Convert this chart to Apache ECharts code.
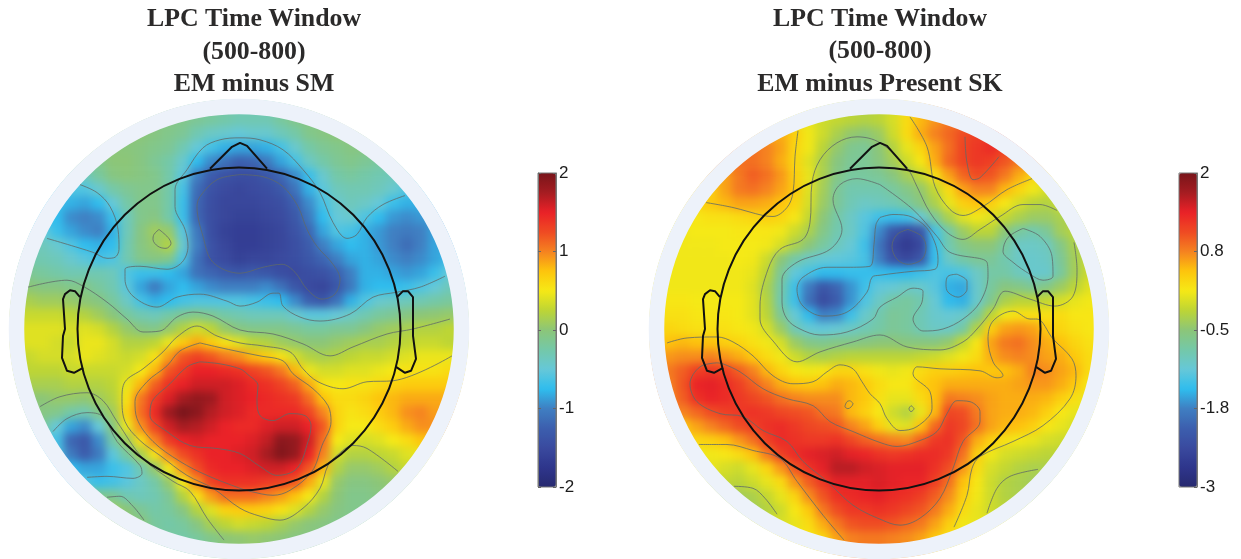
<!DOCTYPE html>
<html><head><meta charset="utf-8">
<style>html,body{margin:0;padding:0;background:#fff}#c{width:1241px;height:559px}</style>
<script src="https://cdn.jsdelivr.net/npm/echarts@6/dist/echarts.min.js"></script>
</head><body><div id="c"></div>
<script>
const titleLeft = 'LPC Time Window\n(500-800)\nEM minus SM';
const titleRight = 'LPC Time Window\n(500-800)\nEM minus Present SK';
const ticksLeft = ['-2','-1','0','1','2'];
const ticksRight = ['-3','-1.8','-0.5','0.8','2'];
const colorStops = ['#27296f','#2e358c','#3a4a9f','#3c5fae','#3f7fc2','#2fbdee','#66c8d8','#74c8a8','#8cc678','#bdd535','#f6e916','#fdc50c','#f58220','#ef4a23','#ea2127','#a51c21','#78141a'];

// Rows run top to bottom; each row is centred on the head's midline.
const rowsLeft = [
[-.05,-.1,-.15,-.2,-.25,-.3,-.3,-.3,-.2,-.1,-.05],
[0,-.05,-.1,-.15,-.3,-.4,-.45,-.5,-.45,-.45,-.35,-.25,-.1,-.05,0],
[0,-.02,-.05,-.1,-.15,-.3,-.5,-.65,-.8,-.85,-.85,-.8,-.65,-.45,-.25,-.15,-.1,-.05,-.05],
[-.1,0,0,-.05,-.15,-.25,-.45,-.75,-.95,-1.1,-1.25,-1.2,-1.05,-.85,-.65,-.4,-.25,-.15,-.1,-.15,-.2],
[-.35,-.2,-.05,-.02,-.05,-.1,-.25,-.55,-1,-1.3,-1.4,-1.45,-1.45,-1.35,-1.2,-.95,-.7,-.45,-.25,-.2,-.25,-.3,-.35],
[-.6,-.6,-.45,-.25,-.15,-.1,-.1,-.25,-.65,-1.15,-1.4,-1.5,-1.55,-1.5,-1.45,-1.35,-1.1,-.8,-.55,-.35,-.3,-.3,-.35,-.45,-.6],
[-.7,-.8,-.85,-.75,-.5,-.25,-.1,-.1,-.25,-.7,-1.2,-1.45,-1.55,-1.55,-1.55,-1.5,-1.45,-1.25,-.95,-.65,-.45,-.35,-.4,-.5,-.7,-.8,-.8],
[-.75,-.95,-1,-.95,-.7,-.35,-.1,-.05,-.25,-.7,-1.2,-1.45,-1.55,-1.6,-1.6,-1.55,-1.5,-1.35,-1.05,-.75,-.5,-.45,-.6,-.75,-.9,-.95,-.9],
[-.5,-.7,-.85,-.95,-1,-.8,-.35,-.05,.1,.05,-.55,-1.05,-1.45,-1.6,-1.65,-1.65,-1.6,-1.55,-1.4,-1.2,-.85,-.6,-.65,-.8,-.9,-1,-1.05,-1,-.85],
[-.35,-.45,-.6,-.75,-.8,-.75,-.3,-.05,.05,.2,-.45,-1,-1.4,-1.55,-1.65,-1.65,-1.6,-1.55,-1.45,-1.3,-1,-.85,-.75,-.8,-.9,-1,-1.15,-1,-.85],
[-.25,-.3,-.35,-.45,-.55,-.65,-.6,-.3,-.1,-.05,-.1,-.6,-1.1,-1.4,-1.5,-1.6,-1.55,-1.55,-1.5,-1.45,-1.35,-1.2,-1,-.85,-.8,-.85,-.95,-1,-.95,-.85,-.7],
[-.15,-.2,-.25,-.3,-.3,-.3,-.35,-.6,-.7,-.7,-.75,-.85,-1.1,-1.2,-1.3,-1.35,-1.3,-1.35,-1.45,-1.5,-1.45,-1.4,-1.25,-1,-.8,-.8,-.85,-.9,-.85,-.7,-.5],
[0,-.05,-.05,-.1,-.1,-.2,-.3,-.55,-.85,-1.05,-.85,-.75,-.85,-.95,-1,-1,-1,-.95,-1.1,-1.35,-1.5,-1.55,-1.35,-1.05,-.8,-.75,-.75,-.7,-.6,-.5,-.35],
[.15,.1,.1,.05,0,-.05,-.2,-.4,-.65,-.8,-.75,-.65,-.6,-.6,-.6,-.6,-.65,-.7,-.75,-.95,-1.25,-1.35,-1.1,-.8,-.6,-.45,-.4,-.35,-.3,-.25,-.2],
[.3,.3,.3,.25,.2,.1,-.02,-.2,-.3,-.35,-.25,-.15,-.1,-.15,-.25,-.3,-.35,-.35,-.35,-.45,-.55,-.55,-.5,-.4,-.3,-.2,-.15,-.05,0,.02,.05],
[.4,.4,.4,.35,.4,.35,.2,.05,-.05,-.1,.05,.2,.35,.25,.05,-.05,-.1,-.1,-.1,-.15,-.2,-.2,-.15,-.15,-.05,.05,.1,.15,.2,.2,.25],
[.4,.4,.35,.3,.45,.45,.35,.2,.2,.25,.45,.7,.85,.7,.55,.4,.25,.2,.1,.05,0,0,.05,.1,.15,.15,.2,.25,.3,.3,.25],
[.3,.35,.35,.35,.45,.4,.35,.3,.35,.55,.9,1.2,1.3,1.2,1.05,.95,.8,.7,.55,.35,.2,.15,.2,.25,.3,.3,.35,.4,.45,.45,.45],
[.25,.25,.25,.3,.3,.3,.3,.35,.5,.8,1.2,1.35,1.5,1.5,1.45,1.4,1.3,1.2,1.05,.8,.45,.35,.35,.4,.4,.45,.5,.55,.55,.55,.6],
[.15,.15,.15,.2,.2,.2,.25,.45,.8,1.15,1.4,1.5,1.6,1.6,1.6,1.55,1.45,1.4,1.3,1.15,.85,.55,.5,.55,.55,.6,.65,.7,.7,.7,.7],
[0,0,.05,.05,.02,.1,.2,.55,1.05,1.35,1.55,1.75,1.85,1.8,1.6,1.55,1.5,1.45,1.4,1.35,1.1,.75,.6,.6,.65,.75,.8,.85,.85,.85,.85],
[-.05,-.1,-.25,-.3,-.1,.1,.65,1.1,1.45,1.8,2,1.9,1.7,1.6,1.55,1.45,1.45,1.45,1.45,1.3,1,.65,.55,.6,.7,.8,.95,1,.9],
[-.2,-.5,-.85,-.95,-.5,-.05,.45,.95,1.3,1.6,1.75,1.7,1.6,1.5,1.45,1.45,1.55,1.6,1.6,1.5,1.2,.65,.5,.5,.6,.7,.85,.95,.95],
[-.65,-1.2,-1.35,-.95,-.25,.1,.6,1,1.35,1.5,1.55,1.5,1.5,1.5,1.55,1.65,1.9,1.85,1.6,1.1,.5,.4,.35,.4,.5,.6,.75],
[-.6,-1.05,-1.3,-1.05,-.55,-.2,.15,.55,1,1.25,1.4,1.5,1.5,1.55,1.6,1.75,1.95,1.85,1.5,1,.35,.2,.2,.25,.3,.4,.45],
[-.75,-.85,-.85,-.7,-.6,-.3,.05,.5,.95,1.25,1.45,1.5,1.5,1.55,1.6,1.6,1.5,1.2,.8,.2,.05,.05,.1,.2,.3],
[-.6,-.7,-.65,-.55,-.4,-.25,.05,.5,.95,1.3,1.4,1.4,1.4,1.35,1.3,1.2,.85,.45,.05,-.05,-.05,0,.05],
[-.1,-.15,-.3,-.35,-.3,-.15,.2,.55,.9,1.1,1.1,1.1,1,.9,.75,.5,.2,0,-.1,-.1,-.05],
[.1,0,-.15,-.25,-.2,-.05,.2,.4,.65,.7,.7,.65,.55,.4,.2,.05,-.05,-.1,-.1],
[0,-.2,-.25,-.2,-.05,.15,.25,.35,.3,.25,.15,.05,-.02,-.05,-.1],
[-.2,-.25,-.2,-.1,0,.02,.05,.02,0,-.05,-.05]
];
const rowsRight = [
[.05,-.1,-.15,-.2,-.25,-.2,-.05,.25,.5,.65,.8],
[.55,.35,.1,-.1,-.3,-.45,-.5,-.4,-.1,.25,.55,.75,.9,1.05,1.15],
[.85,.75,.6,.3,.1,-.2,-.45,-.65,-.7,-.5,-.25,.05,.3,.6,.85,1.1,1.2,1.3,1.15],
[.85,.85,.75,.55,.3,0,-.3,-.55,-.7,-.7,-.55,-.35,-.1,.15,.55,.9,1.1,1.2,1.15,1,.8],
[.6,.8,.95,.85,.65,.35,.05,-.3,-.6,-.75,-.75,-.7,-.55,-.35,-.15,.2,.6,.9,1.05,1,.8,.55,.3],
[.35,.6,.8,.85,.75,.6,.4,0,-.35,-.7,-.85,-.85,-.85,-.75,-.6,-.45,-.15,.25,.6,.75,.75,.5,.3,.1,-.05],
[.3,.4,.5,.6,.6,.55,.45,.3,-.05,-.4,-.7,-.9,-1,-.95,-.9,-.75,-.55,-.3,.05,.35,.45,.35,.15,-.05,-.2,-.25,-.1],
[.15,.2,.2,.25,.3,.35,.3,.15,-.15,-.5,-.8,-1,-1.2,-1.35,-1.4,-1.35,-1.1,-.7,-.3,0,.1,0,-.15,-.3,-.4,-.4,-.3],
[.1,.12,.12,.12,.15,.15,.15,.1,-.1,-.3,-.6,-.85,-1,-1.25,-1.7,-2.2,-2.4,-2.2,-1.3,-.8,-.4,-.2,-.2,-.5,-.75,-.85,-.7,-.35,-.2],
[.1,.1,.1,.12,.12,.12,.1,-.05,-.3,-.5,-.75,-.95,-1.1,-1.35,-1.85,-2.4,-2.6,-2.4,-1.4,-.85,-.6,-.5,-.5,-.75,-1,-1,-.95,-.6,-.3],
[.1,.1,.1,.1,.1,.12,.1,-.1,-.5,-.8,-1,-1.1,-1.15,-1.2,-1.3,-1.75,-2.25,-2.4,-2.2,-1.4,-1,-.8,-.7,-.7,-.85,-1,-1.05,-1,-.7,-.35,-.1],
[.1,.1,.1,.1,.1,.1,.05,-.2,-.7,-1.15,-1.3,-1.45,-1.45,-1.4,-1.4,-1.4,-1.45,-1.45,-1.35,-1.25,-1.3,-1.25,-1,-.8,-.8,-.95,-1.05,-1.05,-.75,-.35,-.1],
[.1,.1,.1,.1,.1,.1,0,-.3,-.8,-1.35,-1.8,-2.2,-2,-1.65,-1.35,-1.15,-1.1,-1,-1.05,-1.2,-1.5,-1.55,-1.05,-.75,-.55,-.6,-.7,-.6,-.4,-.2,0],
[.15,.15,.12,.12,.12,.12,.02,-.25,-.85,-1.35,-1.9,-2.35,-2.1,-1.65,-1.25,-1,-.8,-.75,-.85,-1.1,-1.45,-1.5,-1.05,-.65,-.3,-.2,-.2,-.15,-.05,.05,.1],
[.2,.2,.15,.15,.15,.12,.02,-.2,-.7,-1.1,-1.45,-1.75,-1.7,-1.35,-1.05,-.85,-.7,-.75,-.9,-1.05,-1.1,-1.05,-.75,-.2,.1,.2,.2,.2,.25,.15,.15],
[.3,.25,.2,.2,.2,.15,.1,-.05,-.4,-.9,-1.1,-1.15,-1.1,-1,-.9,-.8,-.7,-.75,-.9,-1,-1,-.8,-.25,.35,.6,.65,.6,.4,.3,.2,.15],
[.45,.5,.45,.45,.35,.3,.2,.1,-.05,-.4,-.6,-.65,-.6,-.6,-.55,-.5,-.5,-.55,-.55,-.55,-.45,-.15,.15,.6,.8,.85,.7,.55,.45,.3,.2],
[.65,.7,.7,.75,.65,.55,.4,.25,.1,-.1,-.25,-.3,-.25,-.2,-.2,-.2,-.2,-.2,-.15,-.1,0,.1,.25,.55,.7,.75,.7,.6,.55,.4,.25],
[.8,.95,1.15,1.2,1.15,.95,.75,.5,.3,.15,.1,.15,.3,.3,.2,.1,.05,.1,.25,.35,.35,.4,.45,.4,.45,.55,.75,.7,.6,.5,.25],
[.75,1,1.35,1.4,1.3,1.15,.95,.75,.55,.45,.4,.45,.55,.5,.4,.25,.15,.15,.35,.45,.55,.55,.55,.55,.55,.6,.65,.65,.55,.4,.15],
[.7,.95,1.25,1.35,1.3,1.2,1.1,1,.85,.75,.7,.7,.7,.5,.4,.2,.05,.05,.25,.45,.8,.75,.7,.6,.55,.55,.55,.5,.35,.2,.05],
[.75,.9,1.05,1.15,1.2,1.25,1.2,1.1,1.05,1,.85,.8,.5,.35,.15,-.1,-.25,.05,.5,1.1,1.05,.8,.6,.55,.55,.5,.35,.15,.05],
[.4,.6,.75,.9,1.05,1.15,1.25,1.3,1.2,1.1,1.05,1,.75,.6,.35,.05,0,.45,.9,1.2,1.1,.85,.6,.5,.45,.35,.15,.05,-.05],
[.3,.35,.45,.65,.85,1.15,1.3,1.25,1.2,1.2,1.25,1.1,.95,.85,.75,.7,.95,1.2,1.25,1,.55,.35,.2,.1,.05,-.05,-.1],
[.1,.1,.15,.25,.45,.8,1.15,1.3,1.4,1.45,1.5,1.4,1.35,1.25,1.2,1.25,1.3,1.3,1.2,.85,.35,.1,-.05,-.1,-.15,-.2,-.2],
[.05,-.05,-.1,.05,.3,.65,1,1.25,1.4,1.6,1.6,1.5,1.45,1.4,1.4,1.4,1.25,1.05,.65,.25,-.05,-.15,-.25,-.3,-.3],
[-.15,-.2,-.1,.05,.25,.65,.95,1.2,1.4,1.4,1.4,1.45,1.4,1.35,1.35,1.15,.85,.45,.15,-.1,-.25,-.3,-.35],
[-.35,-.3,-.15,.05,.3,.7,1,1.25,1.3,1.35,1.4,1.3,1.25,1.15,.95,.7,.35,.1,-.1,-.25,-.3],
[-.35,-.25,-.1,.15,.4,.8,1.05,1.2,1.2,1.25,1.2,1.1,1,.8,.55,.25,.05,-.1,-.2],
[-.05,.05,.25,.55,.8,1,1.05,1.05,1,.9,.8,.6,.35,.1,.05],
[.15,.3,.6,.75,.8,.8,.75,.7,.6,.4,.2]
];

// Overlay frame: 462 units square, from (8,99) to (470,561).
const nose = [[210,169],[232,147],[240,143],[247,146],[267,169]];
const earLeft = [[80,298],[75,292],[70,291],[65,295],[63,300],[65,330],[63,337],[62,359],[67,372],[74,374],[83,369]];
const earRight = [[397,298],[403,292],[408,292],[413,298],[413,330],[413,337],[416,360],[411,372],[405,374],[396,368]];
const contoursLeft = [
[[80,185],[97,193],[110,207],[118,230],[119,250],[115,258],[107,259],[93,253],[47,239]],
[[159,230],[168,238],[171,244],[166,249],[158,247],[153,240],[154,235],[159,230]],
[[405,196],[383,205],[367,218],[357,235],[347,239],[333,223],[320,193],[303,170],[283,150],[260,140],[240,138],[220,140],[203,148],[187,170],[175,190],[175,207],[185,230],[188,247],[182,263],[167,270],[140,267],[125,270],[125,280],[133,297],[157,308],[177,298],[200,295],[227,302],[240,307],[257,303],[273,294],[279,294],[283,307],[300,318],[320,322],[350,315],[373,298],[397,293],[420,288],[445,277]],
[[240,175],[217,180],[200,197],[197,207],[203,237],[213,263],[240,274],[263,268],[282,265],[295,273],[307,290],[322,300],[335,295],[340,280],[333,265],[317,247],[307,230],[298,207],[283,187],[263,177],[240,175]],
[[28,288],[67,281],[83,287],[107,303],[127,320],[143,333],[160,332],[177,318],[193,313],[213,317],[240,331],[273,335],[303,345],[330,357],[353,348],[387,335],[413,330],[450,320]],
[[452,357],[393,382],[367,383],[343,390],[318,383],[303,370],[290,353],[263,347],[240,344],[217,337],[197,327],[177,338],[163,353],[143,370],[125,383],[122,400],[125,423],[140,442],[160,457],[187,477],[213,490],[240,510],[260,518],[280,522],[303,510],[320,490],[328,467],[337,457],[353,447],[367,450],[398,473]],
[[200,344],[180,352],[167,367],[147,383],[135,403],[137,420],[153,443],[180,463],[207,477],[240,490],[250,493],[273,497],[290,492],[312,473],[322,447],[331,423],[328,407],[313,390],[293,375],[283,362],[260,357],[240,353],[217,348],[200,344]],
[[200,363],[187,368],[170,385],[152,403],[150,417],[167,433],[190,447],[217,450],[240,455],[260,468],[277,477],[297,470],[308,443],[311,427],[305,417],[290,415],[273,422],[260,417],[257,400],[258,387],[247,375],[240,370],[220,365],[200,363]],
[[53,433],[67,420],[87,414],[103,418],[117,443],[140,467],[142,475],[133,480],[107,478],[87,479]],
[[40,408],[60,398],[87,394],[103,402],[117,423],[143,460],[173,483],[190,493],[207,520],[224,542]],
[[107,499],[120,498],[133,508],[144,522]]
];
const contoursRight = [
[[158,131],[155,157],[153,193],[147,208],[133,217],[123,216],[93,208],[66,203]],
[[417,211],[400,205],[383,205],[360,217],[340,230],[323,240],[307,233],[290,213],[277,187],[267,168],[240,143],[217,137],[197,143],[180,160],[172,183],[170,223],[163,240],[140,250],[128,270],[120,307],[120,320],[133,342],[157,363],[180,353],[213,343],[240,336],[267,348],[300,351],[323,343],[337,330],[353,310],[365,292],[390,300],[415,307],[433,297],[437,270],[434,243]],
[[270,117],[287,147],[295,187],[310,210],[323,216],[343,207],[367,190],[392,179]],
[[240,185],[217,179],[200,185],[193,200],[202,230],[190,250],[157,263],[142,280],[142,303],[147,320],[160,330],[180,336],[207,333],[233,320],[240,308],[257,298],[273,289],[283,292],[282,303],[273,320],[283,332],[303,330],[323,320],[340,303],[348,277],[347,263],[310,253],[297,237],[273,210],[240,185]],
[[240,218],[236,225],[234,245],[230,267],[207,268],[187,268],[163,278],[157,290],[163,307],[183,317],[207,313],[227,293],[232,278],[240,276],[273,272],[295,270],[298,260],[290,233],[273,218],[253,215],[240,218]],
[[268,230],[282,237],[286,248],[282,260],[268,265],[257,260],[252,247],[257,235],[268,230]],
[[317,275],[327,282],[327,290],[318,298],[308,293],[306,285],[308,277],[317,275]],
[[383,229],[400,237],[412,257],[413,277],[403,281],[390,275],[373,263],[363,252],[368,238],[383,229]],
[[325,137],[327,163],[333,180],[340,178],[359,157]],
[[314,529],[327,497],[332,470],[340,458],[373,443],[403,427],[430,400],[436,377],[432,360],[413,340],[397,320],[390,320],[373,312],[353,322],[348,340],[353,363],[363,377],[357,379],[340,372],[300,370],[277,368],[273,375],[290,393],[292,410],[277,428],[260,432],[247,420],[240,405],[230,395],[222,383],[213,370],[200,366],[187,373],[173,383],[153,385],[133,377],[113,357],[93,343],[77,338],[47,339],[27,344]],
[[77,364],[60,368],[50,385],[57,403],[80,415],[103,418],[123,432],[147,443],[163,463],[187,483],[213,507],[240,521],[260,527],[280,520],[300,500],[313,470],[323,443],[340,423],[340,413],[330,403],[317,402],[307,415],[297,433],[280,442],[257,448],[240,444],[213,433],[190,423],[173,407],[147,400],[123,390],[100,373],[83,365],[77,364]],
[[210,402],[213,405],[208,410],[205,408],[207,403],[210,402]],
[[271,407],[274,410],[271,413],[269,410],[271,407]],
[[59,446],[87,446],[113,452],[140,460],[157,483],[183,517],[204,542]],
[[94,488],[113,490],[125,500],[137,516]],
[[347,515],[357,490],[370,478],[398,471]]
];
// Radii in overlay-frame units, centre at (239,330).
const headCentre = [239,330];
const headRadius = 161.5, ringRadius = 222.5, maskRadius = 262;

const TOP = 1; // layer above the softened heat field
const CELLS = 33, cellLabels = Array.from({length:CELLS},(_,i)=>String(i));
// Edge rows and edge cells repeat outward under the ring so the softening never meets white inside the disc.
function cells(rows){
  const padded=[rows[0],...rows,rows[rows.length-1]];
  const out=[];
  padded.forEach((r,y)=>{
    const wide=[r[0],r[0],...r,r[r.length-1],r[r.length-1]];
    const off=(CELLS-wide.length)/2;
    wide.forEach((v,i)=>{const x=off+i;if(x>=0&&x<CELLS)out.push([x,y,v]);});
  });
  return out;
}
function circle(gi,r,lw,color,z){
  return {type:'custom',xAxisIndex:gi,yAxisIndex:gi,coordinateSystem:'cartesian2d',z,zlevel:TOP,silent:true,clip:false,
    data:[[headCentre[0],headCentre[1]]],
    renderItem:(p,api)=>{const c=api.coord([api.value(0),api.value(1)]);const s=api.size([r,0]);
      return {type:'circle',shape:{cx:c[0],cy:c[1],r:s[0]},style:{fill:'none',stroke:color,lineWidth:lw}};}};
}
function line(gi,pts,width,color,smooth,z){
  return {type:'line',xAxisIndex:gi,yAxisIndex:gi,data:pts,symbol:'none',silent:true,smooth:smooth,clip:false,z,zlevel:TOP,
    lineStyle:{width,color},animation:false};
}
function panel(ci,rows,contours){
  const o=ci+1;
  return [
    {type:'heatmap',xAxisIndex:ci,yAxisIndex:ci,data:cells(rows),z:1,zlevel:0,silent:true,progressive:0,itemStyle:{borderWidth:0},emphasis:{disabled:true},animation:false},
    circle(o,maskRadius,64,'#ffffff',2),
    circle(o,ringRadius,15.5,'#edf2fa',3),
    ...contours.map(c=>line(o,c,0.8,'#5f6a68',0.35,4)),
    circle(o,headRadius,2,'#111111',5),
    line(o,nose,2,'#111111',false,5),
    line(o,earLeft,2,'#111111',false,5),
    line(o,earRight,2,'#111111',false,5)
  ];
}
const mapGrid=(left)=>({left,top:99,width:462,height:462});
const barGrid=(left)=>({left,top:173,width:18,height:314,show:true,borderColor:'#777',borderWidth:1,z:8,zlevel:TOP,backgroundColor:'transparent'});
function catX(g){return {type:'category',gridIndex:g,data:cellLabels,show:false};}
function catY(g){return {type:'category',gridIndex:g,data:cellLabels,show:false,inverse:true};}
function valX(g){return {type:'value',gridIndex:g,min:8,max:470,show:false};}
function valY(g){return {type:'value',gridIndex:g,min:99,max:561,show:false,inverse:true};}
function barX(g){return {type:'category',gridIndex:g,data:['a'],show:false,zlevel:TOP};}
function barY(g,ticks){return {type:'category',gridIndex:g,data:ticks,position:'right',boundaryGap:false,z:10,zlevel:TOP,
  axisLine:{show:true,lineStyle:{color:'#777',width:1}},
  axisTick:{show:true,inside:true,length:3,alignWithLabel:true,lineStyle:{color:'#666'}},
  axisLabel:{show:true,interval:0,color:'#1c1c1c',fontSize:17,margin:3,fontFamily:'Liberation Sans'}};}

const seriesLeft=panel(0,rowsLeft,contoursLeft), seriesRight=panel(4,rowsRight,contoursRight);
const titleFont={fontFamily:'Liberation Serif',fontWeight:'bold',fontSize:25.8,lineHeight:32.5,color:'#2b2a2a'};
const option={
  animation:false,backgroundColor:'transparent',
  title:[
    {text:titleLeft,left:254,top:3.5,textAlign:'center',padding:0,z:9,zlevel:TOP,textStyle:titleFont},
    {text:titleRight,left:880,top:3,textAlign:'center',padding:0,z:9,zlevel:TOP,textStyle:titleFont}
  ],
  grid:[mapGrid(8),mapGrid(648),barGrid(538),barGrid(1179)],
  xAxis:[catX(0),valX(0),barX(2),barX(2),catX(1),valX(1),barX(3)],
  yAxis:[catY(0),valY(0),barY(2,ticksLeft),Object.assign(barY(2,ticksLeft),{position:'left',axisLabel:{show:false}}),catY(1),valY(1),barY(3,ticksRight)],
  visualMap:[
    {type:'continuous',min:-2,max:2,seriesIndex:0,dimension:2,left:538,top:173,itemWidth:18,itemHeight:314,padding:0,z:1,zlevel:TOP,calculable:false,hoverLink:false,inRange:{color:colorStops},textStyle:{fontSize:0},text:null},
    {type:'continuous',min:-3,max:2,seriesIndex:seriesLeft.length,dimension:2,left:1179,top:173,itemWidth:18,itemHeight:314,padding:0,z:1,zlevel:TOP,calculable:false,hoverLink:false,inRange:{color:colorStops},textStyle:{fontSize:0},text:null}
  ],
  series:[...seriesLeft,...seriesRight]
};
const chart=echarts.init(document.getElementById('c'),null,{renderer:'canvas'});
chart.setOption(option);
// Soften the coarse heat cells only: the heat field sits in its own canvas layer.
const layers=document.querySelectorAll('#c canvas');
if(layers.length>1){layers[0].style.filter='blur(4px)';}
</script></body></html>
